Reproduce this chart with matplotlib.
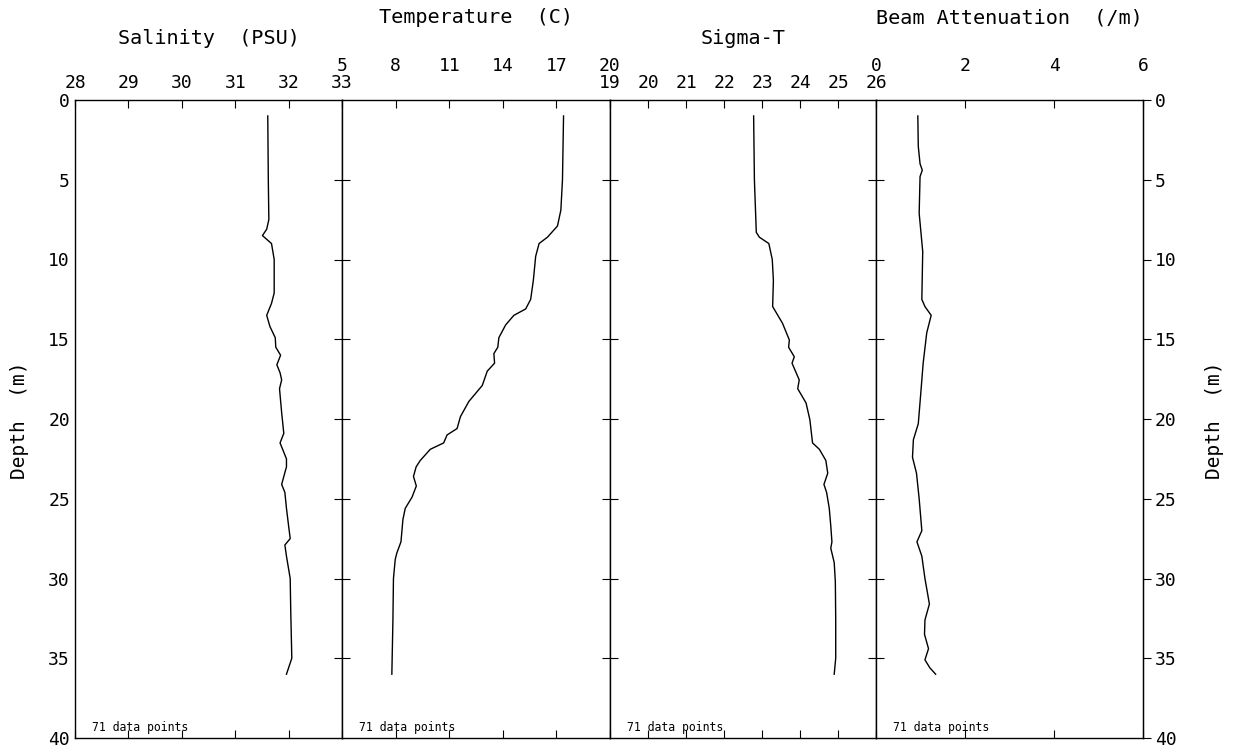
import matplotlib
matplotlib.use("Agg")
import matplotlib.pyplot as plt

# ---- data (depth in m) ----
sal_depth = [1.0, 5.0, 7.5, 8.1, 8.5, 9.0, 10.0, 12.1, 12.75, 13.5, 14.2, 14.9,
             15.5, 16.0, 16.6, 17.1, 17.55, 18.1, 19.6, 20.9, 21.5, 22.5, 23.0,
             24.1, 24.6, 25.6, 26.7, 27.5, 27.9, 28.6, 30.0, 32.0, 35.0, 36.0]
salinity = [31.61, 31.62, 31.63, 31.59, 31.51, 31.68, 31.73, 31.73, 31.68, 31.59,
            31.65, 31.75, 31.76, 31.85, 31.78, 31.84, 31.87, 31.83, 31.87, 31.91,
            31.84, 31.96, 31.96, 31.87, 31.93, 31.96, 32.00, 32.03, 31.93, 31.96,
            32.03, 32.04, 32.06, 31.96]

temp_depth = [1.0, 5.0, 6.9, 7.9, 8.6, 9.0, 9.8, 11.3, 12.5, 13.1, 13.5, 14.1,
              14.9, 15.5, 15.9, 16.5, 17.0, 17.9, 18.9, 19.85, 20.6, 21.0, 21.5,
              21.9, 22.6, 23.0, 23.6, 24.2, 24.9, 25.6, 26.3, 27.7, 28.4, 28.8,
              30.0, 32.6, 36.0]
temperature = [17.40, 17.34, 17.25, 17.06, 16.50, 16.03, 15.84, 15.71, 15.56,
               15.28, 14.62, 14.16, 13.78, 13.72, 13.50, 13.54, 13.13, 12.85,
               12.10, 11.63, 11.44, 10.88, 10.69, 9.94, 9.38, 9.15, 9.00, 9.16,
               8.92, 8.54, 8.41, 8.30, 8.07, 7.98, 7.88, 7.85, 7.79]

sig_depth = [1.0, 5.0, 8.3, 8.6, 9.0, 10.0, 11.3, 12.95, 14.0, 15.05, 15.5, 16.1,
             16.5, 17.55, 18.1, 19.0, 20.05, 21.5, 21.9, 22.6, 23.4, 24.1, 24.6,
             25.6, 26.7, 27.7, 28.1, 29.0, 30.2, 32.6, 35.0, 36.0]
sigma_t = [22.78, 22.80, 22.85, 22.93, 23.18, 23.27, 23.30, 23.28, 23.54, 23.72,
           23.70, 23.85, 23.79, 23.98, 23.94, 24.16, 24.26, 24.33, 24.51, 24.68,
           24.73, 24.63, 24.70, 24.77, 24.81, 24.84, 24.81, 24.90, 24.93, 24.94,
           24.94, 24.90]

beam_depth = [1.0, 2.9, 4.0, 4.4, 4.8, 7.1, 9.5, 12.5, 12.95, 13.5, 14.6, 16.5,
              18.6, 20.3, 21.3, 22.4, 23.4, 25.0, 27.0, 27.7, 28.6, 30.0, 31.6,
              32.6, 33.5, 34.4, 35.1, 35.6, 36.0]
beam_att = [0.94, 0.95, 0.99, 1.04, 0.99, 0.97, 1.05, 1.03, 1.10, 1.24, 1.14,
            1.06, 1.00, 0.95, 0.84, 0.82, 0.91, 0.97, 1.03, 0.92, 1.03, 1.10,
            1.20, 1.10, 1.09, 1.18, 1.10, 1.21, 1.34]

n_points = 71
depth_ticks = [0, 5, 10, 15, 20, 25, 30, 35, 40]

panels = [
    ("Salinity  (PSU)", (28, 33), [28, 29, 30, 31, 32, 33], sal_depth, salinity, 1),
    ("Temperature  (C)", (5, 20), [5, 8, 11, 14, 17, 20], temp_depth, temperature, 2),
    ("Sigma-T", (19, 26), [19, 20, 21, 22, 23, 24, 25, 26], sig_depth, sigma_t, 1),
    ("Beam Attenuation  (/m)", (0, 6), [0, 2, 4, 6], beam_depth, beam_att, 2),
]

# ---- layout (pixels) ----
W, H = 1233, 751
EDGES = [75, 342, 610, 876, 1143]
TOP, BOT = 100, 738
FONT = "DejaVu Sans Mono"
PX = 72.0 / 100  # points per pixel

fig = plt.figure(figsize=(W / 100, H / 100), dpi=100)
fig.patch.set_facecolor("white")

axes = []
for i, (title, xlim, xticks, dep, vals, row) in enumerate(panels):
    x0, x1 = EDGES[i], EDGES[i + 1]
    ax = fig.add_axes([x0 / W, (H - BOT) / H, (x1 - x0) / W, (BOT - TOP) / H])
    ax.plot(vals, dep, color="black", lw=1.0)
    ax.set_xlim(*xlim)
    ax.set_ylim(40, 0)
    for sp in ax.spines.values():
        sp.set_linewidth(1.0)

    ax.set_xticks(xticks)
    ax.set_xticklabels([str(t) for t in xticks])
    ax.tick_params(axis="x", direction="in", length=8 * PX, width=0.8,
                   top=True, bottom=True, labeltop=True, labelbottom=False,
                   labelsize=13, pad=(8 if row == 1 else 25) * PX)
    for lab in ax.get_xticklabels():
        lab.set_family(FONT)

    if i == 0:
        ax.set_yticks(depth_ticks)
        ax.tick_params(axis="y", length=0, labelsize=13, pad=5 * PX,
                       left=True, right=False, labelleft=True)
        for lab in ax.get_yticklabels():
            lab.set_family(FONT)
    else:
        ax.set_yticks(depth_ticks[1:-1])
        ax.tick_params(axis="y", direction="inout", length=16 * PX, width=0.8,
                       left=True, right=False, labelleft=False)

    title_y = 1 + (62 if row == 1 else 82) / (BOT - TOP)
    ax.text(0.5, title_y, title, transform=ax.transAxes, ha="center",
            va="center", fontsize=14.5, family=FONT)
    ax.text(0.065, 0.006, "%d data points" % n_points, transform=ax.transAxes,
            ha="left", va="bottom", fontsize=8.3, family=FONT)
    axes.append(ax)

# right-hand depth axis
axr = axes[-1].twinx()
axr.set_ylim(40, 0)
axr.set_yticks(depth_ticks)
axr.tick_params(axis="y", direction="out", length=8 * PX, width=0.8,
                labelsize=13, pad=4 * PX)
for lab in axr.get_yticklabels():
    lab.set_family(FONT)
for sp in ("top", "bottom", "left"):
    axr.spines[sp].set_visible(False)

fig.text(20 / W, (H - 420) / H, "Depth  (m)", rotation=90, ha="center",
         va="center", fontsize=14, family=FONT)
fig.text(1215 / W, (H - 420) / H, "Depth  (m)", rotation=90, ha="center",
         va="center", fontsize=14, family=FONT)

fig.savefig("out.png", dpi=100, facecolor="white")
